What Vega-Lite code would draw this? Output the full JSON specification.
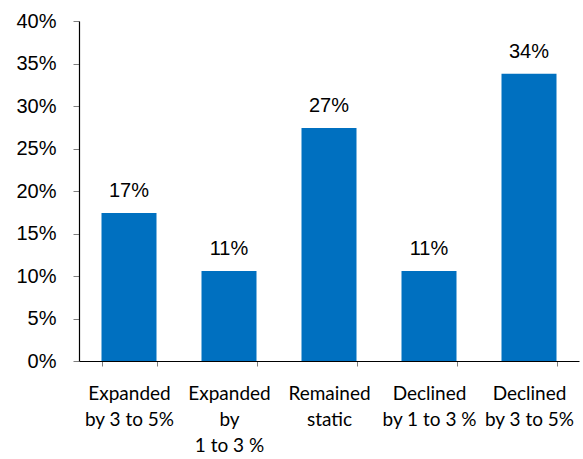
{
  "$schema": "https://vega.github.io/schema/vega-lite/v6.json",
  "width": 500,
  "height": 340,
  "autosize": "none",
  "padding": {"left": 79, "top": 21, "right": 4, "bottom": 98},
  "background": "white",
  "data": {
    "values": [
      {"change": "Expanded|by 3 to 5%", "share": 0.174},
      {"change": "Expanded|by|1 to 3 %", "share": 0.106},
      {"change": "Remained|static", "share": 0.274},
      {"change": "Declined|by 1 to 3 %", "share": 0.106},
      {"change": "Declined|by 3 to 5%", "share": 0.338}
    ]
  },
  "config": {
    "view": {"stroke": null},
    "axis": {"grid": false}
  },
  "encoding": {
    "x": {
      "field": "change",
      "type": "nominal",
      "sort": null,
      "scale": {"paddingInner": 0.45, "paddingOuter": 0.225},
      "axis": {
        "title": null,
        "labelAngle": 0,
        "labelExpr": "split(datum.label, '|')",
        "labelFont": "Lato",
        "labelFontSize": 19,
        "labelColor": "#000000",
        "labelLineHeight": 26,
        "labelPadding": 18,
        "labelBaseline": "top",
        "tickBand": "extent",
        "tickSize": 5,
        "tickColor": "#7f7f7f",
        "domainColor": "#000000",
        "domainWidth": 1.2
      }
    },
    "y": {
      "field": "share",
      "type": "quantitative",
      "scale": {"domain": [0, 0.4], "nice": false},
      "axis": {
        "title": null,
        "values": [0, 0.05, 0.1, 0.15, 0.2, 0.25, 0.3, 0.35, 0.4],
        "format": ".0%",
        "labelFont": "Liberation Sans",
        "labelFontSize": 20,
        "labelColor": "#000000",
        "labelPadding": 17,
        "tickSize": 6,
        "tickColor": "#7f7f7f",
        "domainColor": "#000000",
        "domainWidth": 1.2
      }
    }
  },
  "layer": [
    {"mark": {"type": "bar", "color": "#0070C0"}},
    {
      "mark": {
        "type": "text",
        "font": "Liberation Sans",
        "fontSize": 20,
        "color": "#000000",
        "baseline": "alphabetic",
        "dy": -16
      },
      "encoding": {
        "text": {"field": "share", "type": "quantitative", "format": ".0%"}
      }
    }
  ]
}
